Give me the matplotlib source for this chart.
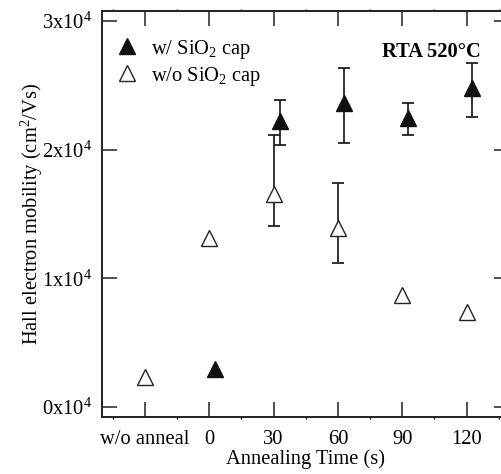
import matplotlib
matplotlib.use("Agg")
import matplotlib.pyplot as plt
from matplotlib.ticker import FixedLocator

plt.rcParams['font.family'] = ['Liberation Serif', 'DejaVu Serif']
plt.rcParams['mathtext.fontset'] = 'custom'
plt.rcParams['mathtext.rm'] = 'Liberation Serif'
plt.rcParams['mathtext.it'] = 'Liberation Serif:italic'
plt.rcParams['mathtext.bf'] = 'Liberation Serif:bold'

# x positions: -30 stands for "w/o anneal"
tick_pos = [-30, 0, 30, 60, 90, 120]
tick_labels = ["w/o anneal", "0", "30", "60", "90", "120"]

cap_x = [2.8, 32.8, 62.8, 92.5, 122.3]
cap_y = [2950, 22200, 23600, 22500, 24800]
cap_lo = [None, 20400, 20500, 21150, 22550]
cap_hi = [None, 23850, 26350, 23650, 26750]

nocap_x = [-30, 0, 30, 60, 90, 120]
nocap_y = [2350, 13100, 16550, 13900, 8700, 7400]
nocap_lo = [None, None, 14100, 11200, None, None]
nocap_hi = [None, None, 21150, 17400, None, None]

yticks = [0, 10000, 20000, 30000]
ytick_labels = ["0x10$^4$", "1x10$^4$", "2x10$^4$", "3x10$^4$"]

FS = 14.8

fig = plt.figure(figsize=(5.01, 4.74), dpi=100)
ax = fig.add_axes([102/501, 1-417/474, (509.5-102)/501, (417-11)/474])

def errs(xs, ys, lo, hi):
    ex, ey, el, eh = [], [], [], []
    for x, y, l, h in zip(xs, ys, lo, hi):
        if l is not None:
            ex.append(x); ey.append(y); el.append(y - l); eh.append(h - y)
    return ex, ey, [el, eh]

ex, ey, ee = errs(nocap_x, nocap_y, nocap_lo, nocap_hi)
ax.errorbar(ex, ey, yerr=ee, fmt='none', ecolor='#222222', elinewidth=1.3,
            capsize=4.5, capthick=1.3, zorder=2)
ex, ey, ee = errs(cap_x, cap_y, cap_lo, cap_hi)
ax.errorbar(ex, ey, yerr=ee, fmt='none', ecolor='#222222', elinewidth=1.3,
            capsize=4.5, capthick=1.3, zorder=2)

ax.plot(cap_x, cap_y, linestyle='none', marker='^', ms=11.5, mfc='#111111',
        mec='#111111', mew=1.0, zorder=3, label="w/ SiO$_2$ cap")
ax.plot(nocap_x, nocap_y, linestyle='none', marker='^', ms=11.5, mfc='white',
        mec='#222222', mew=1.0, zorder=3, label="w/o SiO$_2$ cap")

ax.set_xlim(-50, 140)
ax.set_ylim(-780, 30780)

ax.xaxis.set_major_locator(FixedLocator(tick_pos))
ax.set_xticklabels(tick_labels)
ax.xaxis.set_minor_locator(FixedLocator([-45, -15, 15, 45, 75, 105, 135]))
ax.set_yticks(yticks)
ax.set_yticklabels(ytick_labels)

ax.tick_params(axis='both', which='major', direction='in', length=11, width=1.1,
               labelsize=FS, color='#222222', top=True, right=True)
ax.tick_params(axis='x', which='major', pad=9.2)
ax.tick_params(axis='y', which='major', pad=7)
ax.tick_params(axis='x', which='minor', direction='out', length=1.5, width=1.0,
               top=True, color='#222222')
for s in ax.spines.values():
    s.set_linewidth(1.4)
    s.set_color('#222222')

ax.set_xlabel("Annealing Time (s)", fontsize=FS)
ax.xaxis.set_label_coords(0.5, -0.079)
ax.set_ylabel("Hall electron mobility (cm$^2$/Vs)", fontsize=FS)
ax.yaxis.set_label_coords(-0.140, 0.5)

ax.text(0.93, 0.9, "RTA 520°C", transform=ax.transAxes, ha='right', va='center',
        fontsize=FS, fontweight='bold')

ax.legend(loc='upper left', bbox_to_anchor=(-0.004, 0.97), frameon=False,
          fontsize=FS, handlelength=1.2, handletextpad=0.55, labelspacing=0.2,
          numpoints=1, borderaxespad=0.3)

fig.savefig("out.png", dpi=100)
